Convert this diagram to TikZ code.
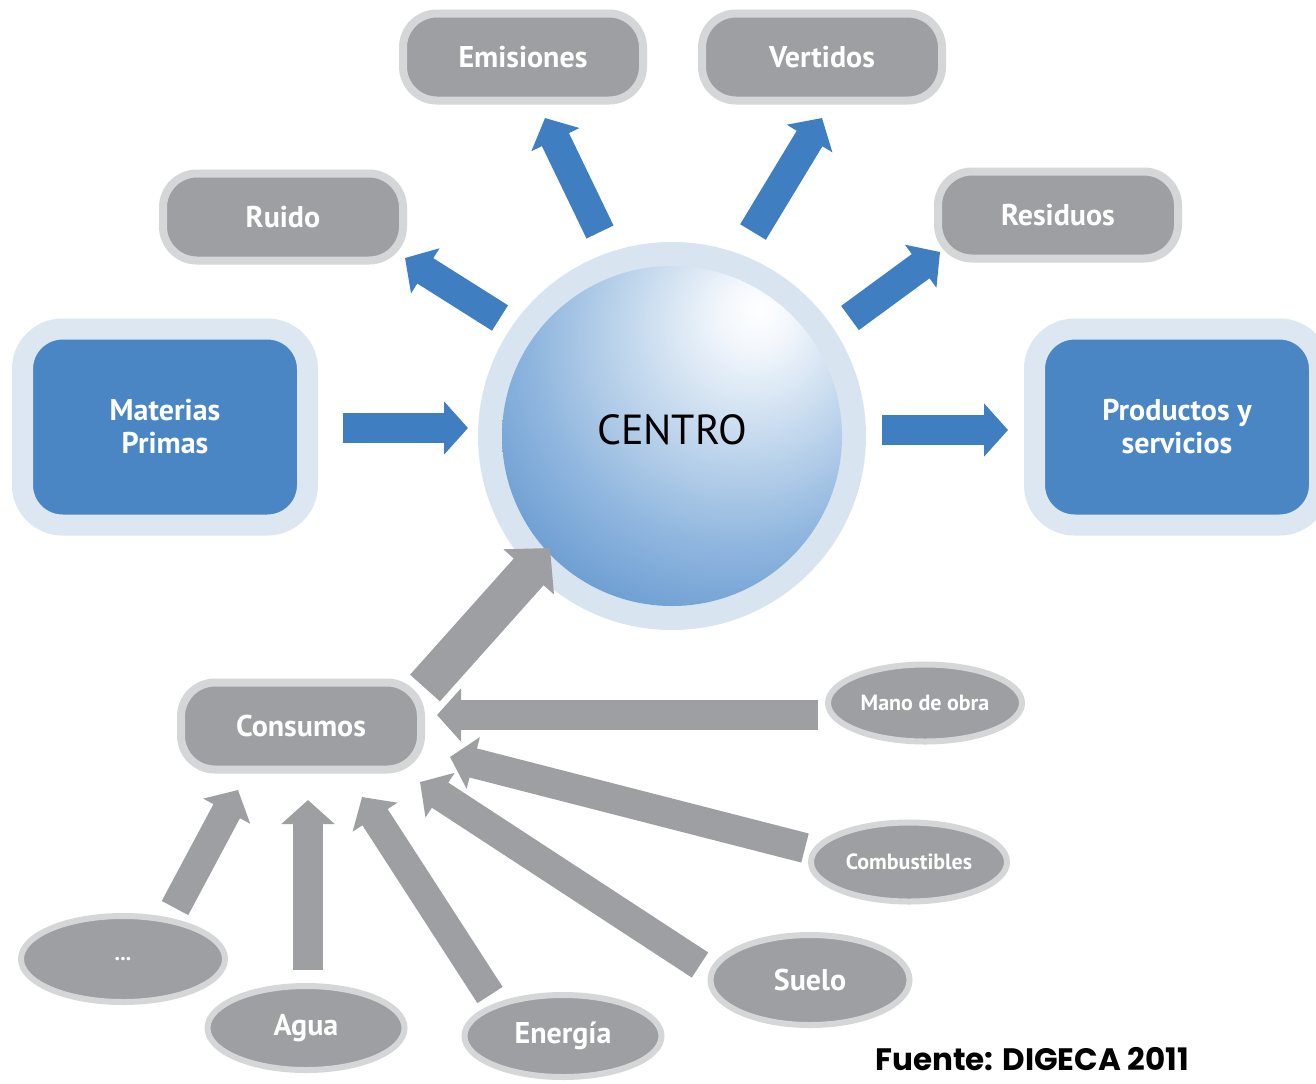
\documentclass[tikz,border=0pt]{standalone}
\usepackage{fontspec}
\setmainfont{PT Sans}
\newfontfamily\fuentefont{Poppins}
\usetikzlibrary{shapes.geometric,arrows.meta}
\definecolor{boxgray}{HTML}{9E9FA3}
\definecolor{grayborder}{HTML}{D5D6D8}
\definecolor{boxblue}{HTML}{4A86C4}
\definecolor{blueborder}{HTML}{DCE7F2}
\definecolor{arrowblue}{HTML}{3F7FC1}
\definecolor{ringblue}{HTML}{D8E5F1}
\definecolor{sphA}{HTML}{F3F7FC}
\definecolor{sphB}{HTML}{C3D8ED}
\definecolor{sphC}{HTML}{8EB5DE}
\definecolor{sphD}{HTML}{6598D0}
\definecolor{sphE}{HTML}{4D86C4}
\definecolor{sphF}{HTML}{4680C0}
\pgfdeclareradialshading{sphere}{\pgfpoint{13bp}{19bp}}{color(0bp)=(white); color(5bp)=(sphA); color(17bp)=(sphB); color(30bp)=(sphC); color(42bp)=(sphD); color(54bp)=(sphE); color(100bp)=(sphF)}
\tikzset{
  graybox/.style={rounded corners=17pt, fill=boxgray, draw=grayborder, line width=4pt,
    minimum width=120pt, minimum height=43.5pt, inner sep=0pt, text=white,
    font=\bfseries\fontsize{15}{18}\selectfont},
  bluebox/.style={rounded corners=20pt, fill=boxblue, draw=blueborder, line width=10.5pt,
    minimum width=142.5pt, minimum height=98pt, inner sep=0pt, text=white, align=center,
    font=\bfseries\fontsize{15}{16.5}\selectfont},
  oval/.style={ellipse, fill=boxgray, draw=grayborder, line width=3pt, inner sep=0pt,
    text=white, font=\bfseries\fontsize{15}{18}\selectfont},
  smalloval/.style={oval, font=\bfseries\fontsize{11}{13}\selectfont},
  barrow/.style={draw=arrowblue, line width=15pt, -{Triangle[length=12pt,width=26pt]}},
  garrow/.style={draw=boxgray, line width=15pt, -{Triangle[length=12pt,width=26pt]}},
  bigarrow/.style={draw=boxgray, line width=20pt, -{Triangle[length=16pt,width=33pt]}},
}
\begin{document}
\begin{tikzpicture}[x=0.5pt,y=-0.5pt]
\useasboundingbox[fill=white] (0,0) rectangle (1316,1083);
% top gray boxes
\node[graybox] (emis)  at (523,57)  {Emisiones};
\node[graybox] (vert)  at (822,57)  {Vertidos};
\node[graybox] (ruido) at (283,217) {Ruido};
\node[graybox] (resid) at (1058,215) {Residuos};
% blue boxes
\node[bluebox] (mat)  at (165,427)  {Materias\\Primas};
\node[bluebox] (prod) at (1177,427) {Productos y\\servicios};
% centre sphere
\node[circle, fill=ringblue, minimum size=194pt, inner sep=0pt] (ring) at (672,436) {};
\node[circle, shading=sphere, minimum size=170pt, inner sep=0pt,
      font=\fontsize{21}{24}\selectfont, text=black] (centro) at (672,436) {\raisebox{6pt}{CENTRO}};
% consumos
\node[graybox] (cons) at (301,726) {Consumos};
% ovals
\node[smalloval, minimum width=97pt, minimum height=38.5pt] (mano) at (925,703) {Mano de obra};
\node[smalloval, minimum width=98pt, minimum height=39.5pt] (comb) at (909,862) {Combustibles};
\node[oval, minimum width=99.5pt, minimum height=45pt] (suelo) at (810,980) {Suelo};
\node[oval, minimum width=98.5pt, minimum height=41pt] (energia) at (563,1036) {Energía};
\node[oval, minimum width=98.5pt, minimum height=42pt] (agua) at (306,1028) {Agua};
\node[smalloval, minimum width=102pt, minimum height=43pt] (etc) at (123,959) {...};
% blue arrows
\draw[barrow] ([shift={(178,1)}]mat.center) -- ([shift={(-204,-8)}]centro.center);
\draw[barrow] ([shift={(210,-6)}]centro.center) -- ([shift={(-169,3)}]prod.center);
\draw[barrow] ([shift={(-172,-118)}]centro.center) -- ([shift={(122,41)}]ruido.center);
\draw[barrow] ([shift={(-72,-204)}]centro.center) -- ([shift={(22,61)}]emis.center);
\draw[barrow] ([shift={(81,-204)}]centro.center) -- ([shift={(0,61)}]vert.center);
\draw[barrow] ([shift={(178,-118)}]centro.center) -- ([shift={(-118,37)}]resid.center);
% gray arrows
\draw[bigarrow] ([shift={(124,-38)}]cons.center) -- ([shift={(-122,112)}]centro.center);
\draw[garrow] ([shift={(-107,12)}]mano.center) -- ([shift={(136,-11)}]cons.center);
\draw[garrow] ([shift={(-104,-14)}]comb.center) -- ([shift={(149,31)}]cons.center);
\draw[garrow] ([shift={(-110,-15)}]suelo.center) -- ([shift={(119,56)}]cons.center);
\draw[garrow] ([shift={(-73,-41)}]energia.center) -- ([shift={(61,71)}]cons.center);
\draw[garrow] ([shift={(2,-58)}]agua.center) -- ([shift={(7,74)}]cons.center);
\draw[garrow] ([shift={(52,-51)}]etc.center) -- ([shift={(-63,64)}]cons.center);
% source
\node[anchor=base west, inner sep=0pt, font=\fuentefont\bfseries\fontsize{15.5}{18}\selectfont] (fuente) at (875,1070) {Fuente: DIGECA 2011};
\end{tikzpicture}
\end{document}
